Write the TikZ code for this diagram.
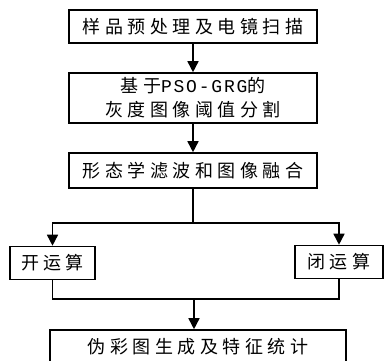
\documentclass[tikz,border=0pt]{standalone}
\usepackage{fontspec}
\newfontfamily\cjk[LetterSpace=25]{Noto Sans CJK SC}
\newfontfamily\lat[LetterSpace=10]{Liberation Mono}
\usetikzlibrary{arrows.meta}

\begin{document}
\begin{tikzpicture}
		[	x=1pt,y=-1pt,
		box/.style={rectangle,draw=black,line width=1.6pt,inner sep=0pt,align=center,font=\cjk\fontsize{18}{24}\selectfont},
		link/.style={line width=1.6pt},
		flow/.style={line width=1.6pt,-{Triangle[length=11pt,width=11pt]}}
		]
		\useasboundingbox (0,0) rectangle (384,360);
		\node[box,minimum width=248,minimum height=33] (scan) at (193,26.5){样品预处理及电镜扫描};
		\node[box,minimum width=248,minimum height=50] (seg) at (193,98){基于{\lat PSO-GRG}的\\灰度图像阈值分割};
		\node[box,minimum width=248,minimum height=35] (morph) at (193,170.5){形态学滤波和图像融合};
		\node[box,minimum width=85,minimum height=33] (open) at (52.5,263){开运算};
		\node[box,minimum width=88,minimum height=33] (close) at (339,262){闭运算};
		\node[box,minimum width=296,minimum height=34] (stats) at (198,347){伪彩图生成及特征统计};

\coordinate (split) at (193,223);
\coordinate (merge) at (194,299);
		\draw[flow] (scan) -- (seg);
		\draw[flow] (seg) -- (morph);
		\draw[link] (morph) -- (split);
		\draw[flow] (split) -| (open);
		\draw[flow] (split) -| (close);
		\draw[link] (open) |- (merge) -| (close);
		\draw[flow] (merge) -- (merge |- stats.north);
	\end{tikzpicture}
\end{document}
